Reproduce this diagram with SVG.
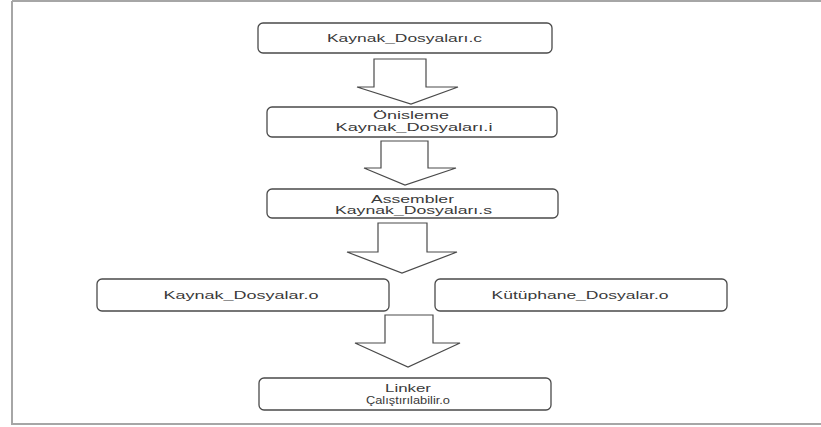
<svg xmlns="http://www.w3.org/2000/svg" width="821" height="427" viewBox="0 0 821 427">
  <style>
    .box { fill: #ffffff; stroke: #4a4a4a; stroke-width: 1.3; }
    .arrow { fill: #ffffff; stroke: #4a4a4a; stroke-width: 1.2; stroke-linejoin: miter; }
    .label { font-family: "Liberation Sans", Arial, sans-serif; font-size: 10.5px; fill: #3a3a3a; text-anchor: middle; }
    .frame { fill: none; stroke: #a6a6a6; stroke-width: 2; }
  </style>

  <rect x="0" y="0" width="821" height="427" fill="#ffffff"/>
  <!-- page frame -->
  <path class="frame" d="M12,1 L821,1 M12,1 L12,424 L821,424"/>

  <!-- block arrows between stages -->
  <g id="connectors">
    <path class="arrow" d="M374,59 L426,59 L426,87 L458,87 L411,104 L357,87 L374,87 Z"/>
    <path class="arrow" d="M381,141 L428,141 L428,168 L456,168 L405,185 L364,168 L381,168 Z"/>
    <path class="arrow" d="M378,223 L427,223 L427,252 L457,252 L402,273 L347,252 L378,252 Z"/>
    <path class="arrow" d="M385,315 L433,315 L433,343 L460,343 L408,367 L355,343 L385,343 Z"/>
  </g>

  <g id="kaynak-c">
    <rect class="box" x="258" y="23" width="294" height="30" rx="5"/>
    <text class="label" x="404.5" y="42" textLength="155" lengthAdjust="spacingAndGlyphs">Kaynak_Dosyaları.c</text>
  </g>

  <g id="onisleme">
    <rect class="box" x="267" y="107" width="290" height="30" rx="5"/>
    <text class="label" x="411" y="119" textLength="76" lengthAdjust="spacingAndGlyphs">Önisleme</text>
    <text class="label" x="414" y="131" textLength="157" lengthAdjust="spacingAndGlyphs">Kaynak_Dosyaları.i</text>
  </g>

  <g id="assembler">
    <rect class="box" x="267" y="189" width="291" height="29" rx="5"/>
    <text class="label" x="412.5" y="203" textLength="83" lengthAdjust="spacingAndGlyphs">Assembler</text>
    <text class="label" x="413.5" y="214" textLength="157" lengthAdjust="spacingAndGlyphs">Kaynak_Dosyaları.s</text>
  </g>

  <g id="kaynak-o">
    <rect class="box" x="97" y="279" width="292" height="32" rx="5"/>
    <text class="label" x="241" y="299" textLength="155" lengthAdjust="spacingAndGlyphs">Kaynak_Dosyalar.o</text>
  </g>

  <g id="kutuphane-o">
    <rect class="box" x="435" y="279" width="292" height="32" rx="5"/>
    <text class="label" x="580" y="299" textLength="177" lengthAdjust="spacingAndGlyphs">Kütüphane_Dosyalar.o</text>
  </g>

  <g id="linker">
    <rect class="box" x="259" y="378" width="292" height="32" rx="5"/>
    <text class="label" x="408" y="392" textLength="46" lengthAdjust="spacingAndGlyphs">Linker</text>
    <text class="label" x="408" y="404" textLength="84" lengthAdjust="spacingAndGlyphs">Çalıştırılabilir.o</text>
  </g>
</svg>
